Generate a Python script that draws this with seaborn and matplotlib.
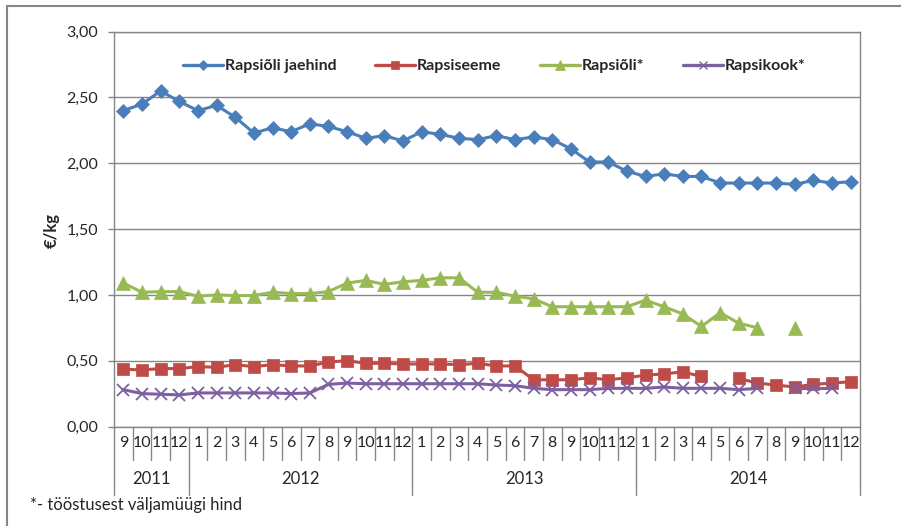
import matplotlib
matplotlib.use('Agg')
import matplotlib.pyplot as plt
import matplotlib.transforms as mtransforms
from matplotlib.lines import Line2D
import numpy as np
import pandas as pd
import seaborn as sns

# Kuud ja aastad (9/2011 - 12/2014)
years = ['2011', '2012', '2013', '2014']
year_len = [4, 12, 12, 12]
months = ['9', '10', '11', '12'] + [str(m) for m in range(1, 13)] * 3

# Hinnad, EUR/kg
jaehind = [2.40, 2.45, 2.55, 2.47, 2.40, 2.44, 2.35, 2.23, 2.27, 2.24, 2.30, 2.28,
           2.24, 2.19, 2.21, 2.17, 2.24, 2.22, 2.19, 2.18, 2.21, 2.18, 2.20, 2.18,
           2.11, 2.01, 2.01, 1.94, 1.90, 1.92, 1.90, 1.90, 1.85, 1.85, 1.85, 1.85,
           1.84, 1.87, 1.85, 1.86]
seeme = [0.435, 0.43, 0.44, 0.44, 0.455, 0.45, 0.47, 0.455, 0.47, 0.46, 0.46, 0.49,
         0.50, 0.48, 0.48, 0.475, 0.475, 0.475, 0.47, 0.48, 0.46, 0.46, 0.355, 0.355,
         0.355, 0.37, 0.355, 0.37, 0.39, 0.40, 0.415, 0.38, np.nan, 0.365, 0.33, 0.315,
         0.30, 0.32, 0.33, 0.34]
oli = [1.09, 1.02, 1.025, 1.025, 0.99, 1.00, 0.995, 0.995, 1.02, 1.01, 1.01, 1.025,
       1.09, 1.11, 1.08, 1.10, 1.11, 1.13, 1.13, 1.02, 1.02, 0.99, 0.97, 0.91,
       0.91, 0.91, 0.91, 0.91, 0.96, 0.91, 0.855, 0.76, 0.865, 0.785, 0.75, np.nan,
       0.75, np.nan, np.nan, np.nan]
kook = [0.28, 0.25, 0.245, 0.24, 0.255, 0.255, 0.255, 0.255, 0.255, 0.25, 0.255, 0.32,
        0.33, 0.325, 0.325, 0.325, 0.325, 0.325, 0.325, 0.325, 0.315, 0.31, 0.29, 0.28,
        0.28, 0.28, 0.29, 0.29, 0.29, 0.30, 0.29, 0.29, 0.29, 0.28, 0.29, np.nan,
        0.29, 0.29, 0.29, np.nan]

names = ['Rapsiõli jaehind', 'Rapsiseeme', 'Rapsiõli*', 'Rapsikook*']
colors = ['#4A7EBB', '#BE4B48', '#98B954', '#7D60A0']
markers = ['D', 's', '^', 'x']
msizes = [7.5, 9, 10.5, 8.5]

sns.set_style('white')
plt.rcParams['font.family'] = ['Lato', 'DejaVu Sans']

# pikk tabel, tühimikud eraldi lõikudeks
rows = []
for name, vals in zip(names, [jaehind, seeme, oli, kook]):
    seg = 0
    for i, v in enumerate(vals):
        if np.isnan(v):
            seg += 1
            continue
        rows.append({'series': name, 'pos': i, 'value': v, 'seg': seg})
df = pd.DataFrame(rows)

fig = plt.figure(figsize=(9.01, 5.26), dpi=100)
ax = fig.add_axes([114 / 901, 1 - 426.5 / 526, 746 / 901, 394.8 / 526])

for name, c, m, ms in zip(names, colors, markers, msizes):
    d = df[df['series'] == name]
    sns.lineplot(data=d, x='pos', y='value', units='seg', estimator=None, ax=ax,
                 color=c, lw=2.2, marker=m, markersize=ms, markeredgecolor=c,
                 markeredgewidth=1.3 if m == 'x' else 0.5, legend=False)

grid_c = '#868686'
ax.set_xlim(-0.5, 39.5)
ax.set_ylim(0, 3)
ax.set_yticks(np.arange(0, 3.01, 0.5))
ax.set_yticklabels([f'{v:.2f}'.replace('.', ',') for v in np.arange(0, 3.01, 0.5)])
ax.yaxis.grid(True, color=grid_c, lw=1)
ax.set_axisbelow(True)
ax.tick_params(axis='y', length=4.3, color=grid_c, width=1, labelsize=11.5, pad=7, left=True)
ax.set_xticks([])
ax.set_xlabel('')
ax.set_ylabel('')
for s in ax.spines.values():
    s.set_color(grid_c)
    s.set_linewidth(1)

# kategooriatelg: kuud + aastad
trans = mtransforms.blended_transform_factory(ax.transData, ax.transAxes)
for i, mth in enumerate(months):
    ax.text(i, -0.043, mth, transform=trans, ha='center', va='center', fontsize=11.5)
bounds = np.cumsum([0] + year_len) - 0.5
for b in np.arange(-0.5, 40, 1):
    low = -0.1735 if b in bounds else -0.0849
    ax.plot([b, b], [0, low], transform=trans, color=grid_c, lw=1, clip_on=False)
for y, start, n in zip(years, bounds[:-1], year_len):
    ax.text(start + n / 2, -0.132, y, transform=trans, ha='center', va='center', fontsize=12)

handles = [Line2D([], [], color=c, lw=2.4, marker=m, markersize=ms * 0.7, markeredgecolor=c,
                  markeredgewidth=1.0 if m == 'x' else 0.5)
           for c, m, ms in zip(colors, markers, msizes)]
ax.legend(handles, names, loc='center left', bbox_to_anchor=(0.0925, 0.913), ncol=4,
          frameon=False, handlelength=2.5, handletextpad=0.1, columnspacing=2.45,
          borderpad=0, borderaxespad=0, prop={'weight': 'bold', 'size': 11.5})

fig.text(52 / 901, 1 - 230 / 526, '€/kg', rotation=90, fontweight='bold', fontsize=12,
         ha='center', va='center')
fig.text(30 / 901, 1 - 505 / 526, '*- tööstusest väljamüügi hind', va='center', fontsize=12)

# välimine raam
fig.add_artist(Line2D([7 / 901, 1], [1 - 6 / 526, 1 - 6 / 526], color=grid_c, lw=1.5))
fig.add_artist(Line2D([7 / 901, 7 / 901], [0, 1 - 6 / 526], color=grid_c, lw=1.5))

fig.savefig('out.png', dpi=100)
